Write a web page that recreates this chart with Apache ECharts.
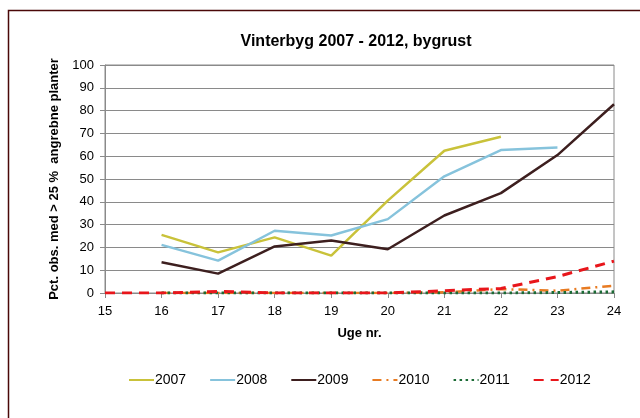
<!DOCTYPE html>
<html>
<head>
<meta charset="utf-8">
<script src="https://cdn.jsdelivr.net/npm/echarts@6/dist/echarts.min.js"></script>
<style>
html,body{margin:0;padding:0;background:#fff;}
#c{width:640px;height:418px;}
</style>
</head>
<body>
<div id="c"></div>
<script>
var weeks = ['15','16','17','18','19','20','21','22','23','24'];
var s2007 = [null, 25.5, 17.8, 24.4, 16.4, 40.5, 62.4, 68.5, null, null];
var s2008 = [null, 21.1, 14.2, 27.3, 25.2, 32.4, 51.2, 62.7, 63.8, null];
var s2009 = [null, 13.5, 8.5, 20.4, 23.0, 19.2, 34.0, 43.8, 60.5, 82.8];
var s2010 = [null, 0, 0, 0, 0, 0, 0.3, 1.7, 1.0, 3.2];
var s2011 = [null, 0, 0, 0, 0, 0, 0, 0, 0.2, 0.5];
var s2012 = [0, 0, 0.7, 0, 0, 0, 1.0, 2.0, 7.2, 14.0];
var yTicks = [0, 100, 10];

var font = 'Liberation Sans, Arial, sans-serif';
function mk(name, data, color, type, width) {
  return {
    name: name, type: 'line', data: data, symbol: 'none', showSymbol: false,
    lineStyle: {color: color, width: width, type: type, cap: 'butt'},
    itemStyle: {color: color},
    emphasis: {disabled: true}, animation: false
  };
}
var chart = echarts.init(document.getElementById('c'), null, {renderer: 'canvas'});
chart.setOption({
  animation: false,
  backgroundColor: '#fff',
  title: {
    text: 'Vinterbyg 2007 - 2012, bygrust', left: 351, top: 29, textAlign: 'center',
    textStyle: {fontFamily: font, fontSize: 16, fontWeight: 'bold', color: '#000'}
  },
  graphic: [{
    type: 'polyline', silent: true,
    shape: {points: [[8.5, 430], [8.5, 10.5], [650, 10.5]]},
    style: {stroke: '#4a0808', lineWidth: 1.5, fill: null}
  }],
  grid: {left: 105, right: 26, top: 65, bottom: 125, show: true, borderColor: '#8a8a8a', borderWidth: 1},
  legend: {
    left: 128, top: 373, padding: 0, itemWidth: 25, itemHeight: 12, itemGap: 23,
    itemStyle: {opacity: 0},
    textStyle: {fontFamily: font, fontSize: 14, color: '#000', padding: [0, 0, 0, -4]},
    data: ['2007', '2008', '2009', '2010', '2011', '2012']
  },
  xAxis: {
    type: 'category', data: weeks, boundaryGap: false,
    name: 'Uge nr.', nameLocation: 'middle', nameGap: 34,
    nameTextStyle: {fontFamily: font, fontSize: 13, fontWeight: 'bold', color: '#000'},
    axisLine: {lineStyle: {color: '#8a8a8a', width: 1}},
    axisTick: {show: true, length: 5, inside: false, alignWithLabel: true, lineStyle: {color: '#8a8a8a'}},
    axisLabel: {fontFamily: font, fontSize: 13, color: '#000', margin: 12},
    splitLine: {show: false}
  },
  yAxis: {
    type: 'value', min: yTicks[0], max: yTicks[1], interval: yTicks[2],
    name: 'Pct. obs. med > 25 %  angrebne planter', nameLocation: 'middle', nameGap: 43,
    nameTextStyle: {fontFamily: font, fontSize: 13, fontWeight: 'bold', color: '#000'},
    axisLine: {show: true, lineStyle: {color: '#8a8a8a', width: 1}},
    axisTick: {show: true, length: 5, lineStyle: {color: '#8a8a8a'}},
    axisLabel: {fontFamily: font, fontSize: 13, color: '#000', margin: 11},
    splitLine: {show: true, lineStyle: {color: '#8a8a8a', width: 1}}
  },
  series: [
    mk('2007', s2007, '#c9c23a', 'solid', 2.5),
    mk('2008', s2008, '#86c3dc', 'solid', 2.5),
    mk('2009', s2009, '#3d1f1f', 'solid', 2.5),
    mk('2010', s2010, '#e87b22', [9, 5, 2, 5], 2.5),
    mk('2011', s2011, '#1b6b35', [2.5, 3.5], 3),
    mk('2012', s2012, '#e8161b', [10, 7], 3)
  ]
});
</script>
</body>
</html>
